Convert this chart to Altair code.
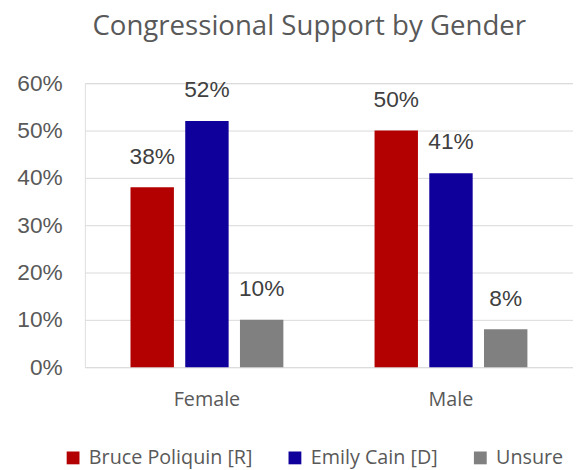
import altair as alt
import pandas as pd

genders = ["Female", "Male"]
candidates = ["Bruce Poliquin [R]", "Emily Cain [D]", "Unsure"]
female_values = [0.38, 0.52, 0.10]
male_values = [0.50, 0.41, 0.08]
colors = ["#B30000", "#10009B", "#808080"]
y_ticks = [0, 0.1, 0.2, 0.3, 0.4, 0.5, 0.6]

rows = []
for g, vals in zip(genders, [female_values, male_values]):
    for c, v in zip(candidates, vals):
        rows.append({"gender": g, "candidate": c, "value": v})
df = pd.DataFrame(rows)

x_enc = alt.X("gender:N", sort=genders,
              scale=alt.Scale(paddingInner=0, paddingOuter=0),
              axis=alt.Axis(title=None, domain=False, ticks=False, labelAngle=0,
                            labelFont="Open Sans", labelFontSize=20,
                            labelColor="#595959", labelPadding=23))
xoff = alt.XOffset("candidate:N", sort=candidates,
                   scale=alt.Scale(paddingInner=0.207, paddingOuter=0.833))
y_enc = alt.Y("value:Q",
              scale=alt.Scale(domain=[0, 0.6], nice=False),
              axis=alt.Axis(title=None, values=y_ticks, format=".0%",
                            domain=False, ticks=False, grid=True,
                            gridColor="#D9D9D9", gridWidth=1,
                            labelFont="Liberation Sans", labelFontSize=23,
                            labelColor="#595959", labelPadding=23,
                            minExtent=73, maxExtent=73))

bars = alt.Chart(df).mark_bar().encode(
    x=x_enc,
    xOffset=xoff,
    y=y_enc,
    color=alt.Color("candidate:N", sort=candidates,
                    scale=alt.Scale(domain=candidates, range=colors),
                    legend=alt.Legend(title=None, orient="none",
                                      direction="horizontal",
                                      legendX=-22, legendY=370,
                                      symbolType="square", symbolSize=169,
                                      symbolStrokeWidth=0,
                                      labelFont="Open Sans", labelFontSize=20,
                                      labelColor="#595959", labelOffset=6,
                                      labelLimit=300,
                                      columnPadding=33)),
)

labels = alt.Chart(df).mark_text(
    baseline="alphabetic", dy=-24, font="Liberation Sans", fontSize=23,
    color="#404040"
).encode(
    x=alt.X("gender:N", sort=genders),
    xOffset=alt.XOffset("candidate:N", sort=candidates),
    y=alt.Y("value:Q"),
    text=alt.Text("value:Q", format=".0%"),
)

chart = alt.layer(bars, labels).properties(
    width=495, height=288,
    padding={"left": 5, "top": 2, "right": 0, "bottom": 0},
    title=alt.TitleParams("Congressional Support by Gender", font="Open Sans",
                          fontSize=28, fontWeight="normal", color="#595959",
                          anchor="middle", dx=-20, offset=32),
).configure_view(stroke=None).configure(background="white")

chart.save("out.html", embed_options={"renderer": "svg", "actions": False})
